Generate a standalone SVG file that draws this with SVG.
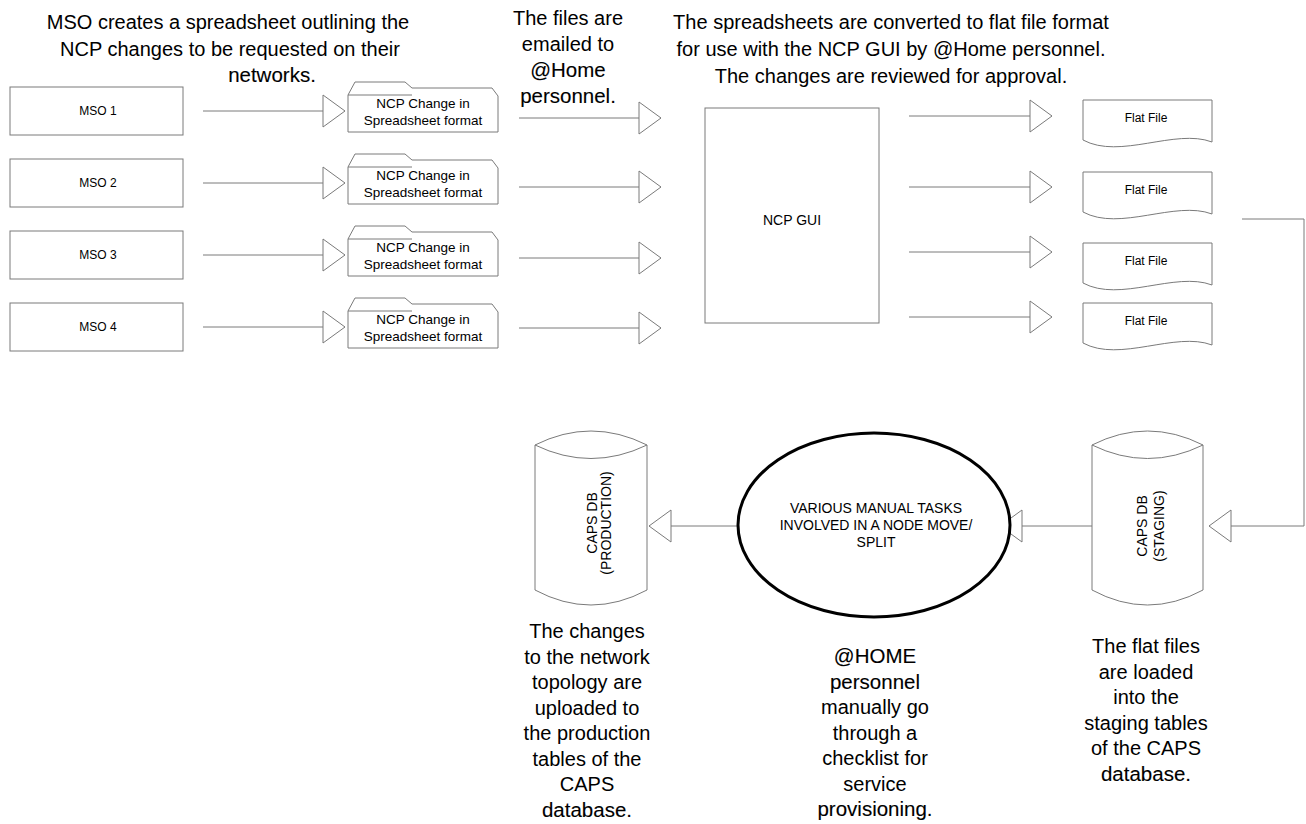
<svg xmlns="http://www.w3.org/2000/svg" width="1306" height="824" viewBox="0 0 1306 824">
<style>
.sh{stroke:#7a7a7a;stroke-width:1;fill:#fff}
.ln{stroke:#7a7a7a;stroke-width:1;fill:none}
.t{font-family:"Liberation Sans",Arial,sans-serif;fill:#000;text-anchor:middle}
.big{font-size:20px}
.dk{font-size:20.5px;stroke:#000;stroke-width:0.12}
.s12{font-size:12px}
.s13{font-size:13.5px}
.s14{font-size:14px}
</style>
<defs>
<marker id="arr" viewBox="0 0 24 34" refX="23" refY="17" markerWidth="24" markerHeight="34" markerUnits="userSpaceOnUse" orient="auto">
<path d="M1,1 L23,17 L1,33 Z" fill="#fff" stroke="#7a7a7a" stroke-width="1"/>
</marker>
<path id="sheet" d="M348,132 V95 L355,82 H405 L412,88 H492 L498,96 V132 Z M348,95 H412"/>
<path id="flat" d="M1083,100 H1212 V142 C1175,128 1120,160 1083,140 Z"/>
</defs>

<!-- annotations -->
<g id="note-mso" class="t big">
<text x="228" y="29">MSO creates a spreadsheet outlining the</text>
<text x="230" y="56">NCP changes to be requested on their</text>
<text x="272" y="82" class="t dk">networks.</text>
</g>
<g id="note-email" class="t big">
<text x="568" y="25">The files are</text>
<text x="568" y="51">emailed to</text>
<text x="568" y="77" class="t dk">@Home</text>
<text x="568" y="103" class="t dk">personnel.</text>
</g>
<g id="note-convert" class="t big">
<text x="891" y="29">The spreadsheets are converted to flat file format</text>
<text x="891" y="56">for use with the NCP GUI by @Home personnel.</text>
<text x="891" y="83">The changes are reviewed for approval.</text>
</g>

<!-- connectors -->
<g id="connectors" class="ln">
<path d="M203,111 H345" marker-end="url(#arr)"/>
<path d="M203,183 H345" marker-end="url(#arr)"/>
<path d="M203,255 H345" marker-end="url(#arr)"/>
<path d="M203,327 H345" marker-end="url(#arr)"/>
<path d="M519,118 H661" marker-end="url(#arr)"/>
<path d="M519,187 H661" marker-end="url(#arr)"/>
<path d="M519,258 H661" marker-end="url(#arr)"/>
<path d="M519,328 H661" marker-end="url(#arr)"/>
<path d="M909,116 H1052" marker-end="url(#arr)"/>
<path d="M909,187 H1052" marker-end="url(#arr)"/>
<path d="M909,252 H1052" marker-end="url(#arr)"/>
<path d="M909,317 H1052" marker-end="url(#arr)"/>
<path d="M1242,219 H1304 V526 H1209" marker-end="url(#arr)"/>
<path d="M1092,526 H1000" marker-end="url(#arr)"/>
<path d="M738,526 H649" marker-end="url(#arr)"/>
</g>

<!-- MSO boxes -->
<g id="mso1"><rect class="sh" x="10" y="87" width="173" height="48"/><text class="t s12" x="98" y="115">MSO 1</text></g>
<g id="mso2"><rect class="sh" x="10" y="159" width="173" height="48"/><text class="t s12" x="98" y="187">MSO 2</text></g>
<g id="mso3"><rect class="sh" x="10" y="231" width="173" height="48"/><text class="t s12" x="98" y="259">MSO 3</text></g>
<g id="mso4"><rect class="sh" x="10" y="303" width="173" height="48"/><text class="t s12" x="98" y="331">MSO 4</text></g>

<!-- spreadsheets -->
<g id="sheet1"><use href="#sheet" class="sh"/><text class="t s13" x="423" y="108">NCP Change in</text><text class="t s13" x="423" y="125">Spreadsheet format</text></g>
<g id="sheet2" transform="translate(0,72)"><use href="#sheet" class="sh"/><text class="t s13" x="423" y="108">NCP Change in</text><text class="t s13" x="423" y="125">Spreadsheet format</text></g>
<g id="sheet3" transform="translate(0,144)"><use href="#sheet" class="sh"/><text class="t s13" x="423" y="108">NCP Change in</text><text class="t s13" x="423" y="125">Spreadsheet format</text></g>
<g id="sheet4" transform="translate(0,216)"><use href="#sheet" class="sh"/><text class="t s13" x="423" y="108">NCP Change in</text><text class="t s13" x="423" y="125">Spreadsheet format</text></g>

<!-- NCP GUI -->
<g id="ncp-gui"><rect class="sh" x="705" y="108" width="174" height="215"/><text class="t s14" x="792" y="225">NCP GUI</text></g>

<!-- flat files -->
<g id="flat1"><use href="#flat" class="sh"/><text class="t s12" x="1146" y="122">Flat File</text></g>
<g id="flat2" transform="translate(0,72)"><use href="#flat" class="sh"/><text class="t s12" x="1146" y="122">Flat File</text></g>
<g id="flat3" transform="translate(0,143)"><use href="#flat" class="sh"/><text class="t s12" x="1146" y="122">Flat File</text></g>
<g id="flat4" transform="translate(0,203)"><use href="#flat" class="sh"/><text class="t s12" x="1146" y="122">Flat File</text></g>

<!-- CAPS DB staging -->
<g id="caps-staging">
<path class="sh" d="M1092,445 Q1147.5,417 1203,445 V590 Q1147.5,620 1092,590 Z"/>
<path class="ln" d="M1092,445 Q1147.5,472 1203,445"/>
<text class="t s14" transform="translate(1147,526) rotate(-90)">CAPS DB</text>
<text class="t s14" transform="translate(1164,526) rotate(-90)">(STAGING)</text>
</g>

<!-- CAPS DB production -->
<g id="caps-production">
<path class="sh" d="M535,445 Q591,417 647,445 V590 Q591,620 535,590 Z"/>
<path class="ln" d="M535,445 Q591,472 647,445"/>
<text class="t s14" transform="translate(597,523) rotate(-90)">CAPS DB</text>
<text class="t s14" transform="translate(611,523) rotate(-90)">(PRODUCTION)</text>
</g>

<!-- manual tasks -->
<g id="manual-tasks">
<ellipse cx="874" cy="525" rx="136" ry="92" fill="#fff" stroke="#000" stroke-width="3"/>
<text class="t s14" x="876" y="513">VARIOUS MANUAL TASKS</text>
<text class="t s14" x="876" y="530">INVOLVED IN A NODE MOVE/</text>
<text class="t s14" x="876" y="547">SPLIT</text>
</g>

<!-- bottom notes -->
<g id="note-production" class="t big">
<text x="587" y="638">The changes</text>
<text x="587" y="663.5">to the network</text>
<text x="587" y="689">topology are</text>
<text x="587" y="714.5">uploaded to</text>
<text x="587" y="740">the production</text>
<text x="587" y="765.5">tables of the</text>
<text x="587" y="791">CAPS</text>
<text x="587" y="816.5" class="t dk">database.</text>
</g>
<g id="note-home" class="t big">
<text x="875" y="663" class="t dk">@HOME</text>
<text x="875" y="688.5" class="t dk">personnel</text>
<text x="875" y="714">manually go</text>
<text x="875" y="739.5">through a</text>
<text x="875" y="765">checklist for</text>
<text x="875" y="790.5">service</text>
<text x="875" y="816" class="t dk">provisioning.</text>
</g>
<g id="note-staging" class="t big">
<text x="1146" y="653">The flat files</text>
<text x="1146" y="678.5">are loaded</text>
<text x="1146" y="704">into the</text>
<text x="1146" y="729.5">staging tables</text>
<text x="1146" y="755">of the CAPS</text>
<text x="1146" y="780.5" class="t dk">database.</text>
</g>
</svg>
